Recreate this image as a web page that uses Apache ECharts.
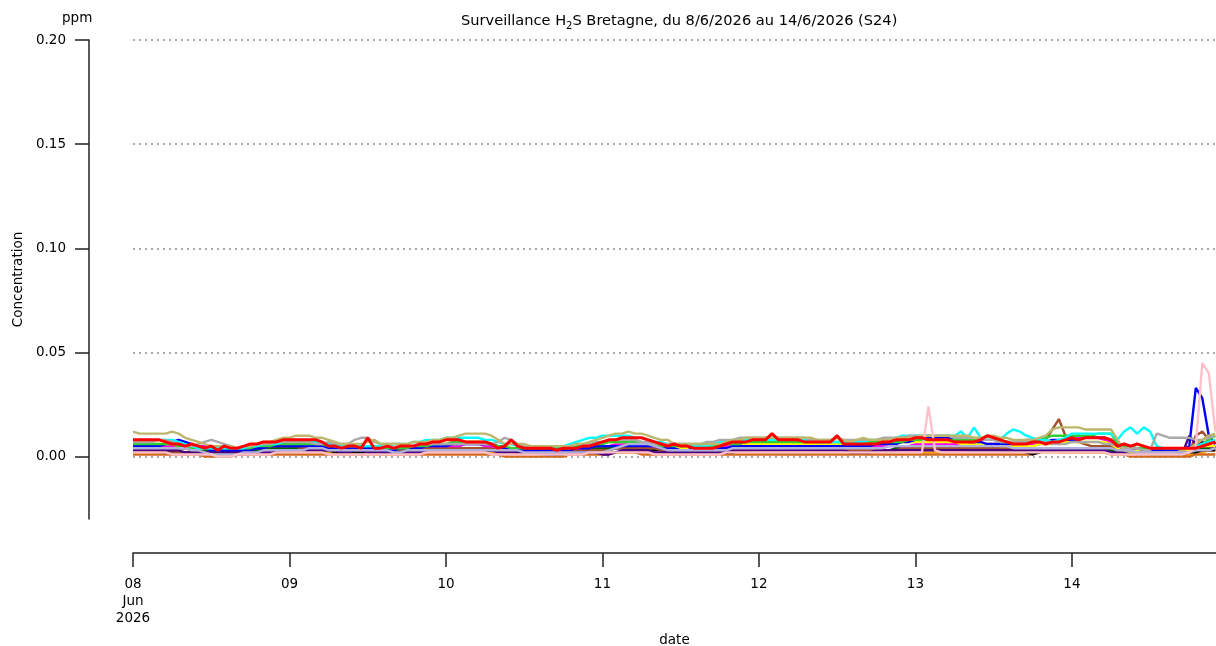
<!DOCTYPE html>
<html>
<head>
<meta charset="utf-8">
<title>Surveillance H2S Bretagne</title>
<script src="https://cdn.jsdelivr.net/npm/echarts@6.0.0/dist/echarts.min.js"></script>
<style>
  html, body { margin: 0; padding: 0; background: #fff; }
  #chart { width: 1216px; height: 646px; }
</style>
</head>
<body>
<div id="chart"></div>
<script>
// heures depuis le 08/06/2026 00:00, un point par heure (0..166)
const dayLabels = ["08\nJun\n2026", "09", "10", "11", "12", "13", "14"];
const xTicks = [0, 24, 48, 72, 96, 120, 144];
const yTicks = [0, 0.05, 0.1, 0.15, 0.2];

// concentrations en ppm, une ligne par jour (08 -> 14)
const orange = [
  .002,.002,.002,.002,.002,.002,.002,.002,.001,.001,.001,.001,.001,.001,.001,.001,.001,.001,.001,.001,.002,.002,.002,.002,
  .002,.002,.002,.002,.002,.002,.002,.002,.001,.001,.001,.001,.001,.001,.001,.001,.001,.001,.001,.001,.001,.002,.002,.002,
  .002,.002,.002,.002,.002,.002,.002,.002,.001,.001,.001,.001,.001,.001,.001,.001,.001,.001,.001,.001,.001,.001,.002,.002,
  .002,.002,.002,.002,.002,.002,.002,.002,.001,.001,.001,.001,.001,.001,.001,.001,.001,.001,.002,.002,.002,.002,.002,.002,
  .002,.002,.002,.002,.002,.002,.002,.002,.002,.002,.002,.002,.002,.002,.002,.002,.002,.002,.002,.002,.002,.002,.002,.002,
  .002,.002,.002,.002,.002,.002,.002,.002,.002,.002,.002,.002,.002,.002,.002,.002,.002,.002,.002,.002,.002,.002,.002,.002,
  .002,.002,.002,.002,.002,.002,.001,.001,.001,.001,.001,.001,.001,.001,.001,.001,.001,.001,.001,.002,.002,.003,.003
];
const chocolate = [
  .001,.001,.001,.001,.001,.001,.001,.001,.001,.001,.001,.000,.000,.000,.000,.000,.001,.001,.001,.001,.001,.001,.001,.001,
  .001,.001,.001,.001,.001,.001,.001,.001,.001,.001,.001,.001,.001,.001,.001,.001,.001,.001,.001,.001,.001,.001,.001,.001,
  .001,.001,.001,.001,.001,.001,.001,.001,.001,.000,.000,.000,.000,.000,.000,.000,.000,.000,.000,.001,.001,.001,.001,.001,
  .001,.001,.002,.002,.002,.002,.001,.001,.001,.001,.001,.001,.001,.001,.001,.001,.001,.001,.001,.001,.001,.001,.001,.001,
  .001,.001,.001,.001,.001,.001,.001,.001,.001,.001,.001,.001,.001,.001,.001,.001,.001,.001,.001,.001,.001,.001,.001,.001,
  .001,.001,.001,.001,.001,.001,.001,.001,.001,.001,.001,.001,.001,.001,.001,.001,.001,.001,.001,.002,.003,.003,.002,.002,
  .002,.002,.002,.002,.002,.002,.001,.001,.001,.000,.000,.000,.000,.000,.000,.000,.000,.000,.000,.001,.001,.001,.001
];
const black = [
  .003,.003,.003,.003,.003,.003,.002,.002,.002,.002,.002,.002,.002,.002,.002,.002,.002,.002,.002,.002,.003,.003,.003,.003,
  .003,.003,.003,.003,.003,.003,.003,.002,.002,.002,.002,.002,.002,.002,.002,.002,.002,.002,.002,.003,.003,.003,.004,.004,
  .004,.004,.004,.004,.004,.004,.003,.003,.003,.002,.002,.002,.002,.002,.002,.002,.001,.001,.001,.002,.002,.002,.002,.003,
  .003,.003,.004,.004,.004,.004,.003,.003,.003,.003,.002,.002,.002,.002,.002,.002,.002,.002,.002,.002,.002,.003,.003,.003,
  .004,.004,.004,.004,.004,.004,.004,.004,.004,.004,.004,.004,.004,.004,.004,.004,.003,.003,.003,.003,.003,.003,.004,.004,
  .004,.004,.004,.004,.004,.004,.004,.004,.004,.004,.004,.004,.004,.003,.003,.003,.003,.002,.001,.002,.003,.003,.003,.003,
  .003,.004,.004,.004,.004,.004,.004,.003,.002,.002,.002,.002,.002,.002,.002,.002,.002,.002,.002,.002,.003,.003,.003
];
const darkgreen = [
  .004,.004,.004,.004,.004,.004,.004,.004,.004,.003,.003,.003,.003,.002,.002,.002,.002,.003,.003,.003,.003,.004,.004,.004,
  .004,.004,.004,.004,.004,.004,.003,.003,.003,.003,.005,.005,.004,.003,.003,.003,.003,.003,.003,.003,.003,.004,.004,.004,
  .004,.004,.004,.004,.004,.004,.004,.004,.003,.003,.003,.003,.003,.003,.003,.003,.002,.002,.002,.002,.003,.003,.003,.004,
  .004,.004,.005,.005,.005,.005,.004,.004,.004,.004,.004,.003,.003,.003,.003,.003,.003,.003,.003,.003,.004,.004,.004,.004,
  .004,.004,.004,.004,.004,.004,.004,.004,.004,.004,.004,.004,.004,.004,.003,.003,.003,.003,.003,.003,.003,.004,.004,.004,
  .004,.004,.004,.004,.005,.005,.004,.004,.003,.003,.003,.003,.003,.003,.003,.003,.003,.003,.003,.003,.003,.003,.003,.003,
  .003,.003,.003,.003,.003,.003,.003,.002,.002,.002,.002,.002,.001,.001,.001,.001,.001,.001,.002,.003,.004,.004,.005
];
const sienna = [
  .003,.003,.003,.003,.002,.002,.002,.002,.002,.002,.001,.001,.001,.001,.001,.001,.001,.001,.001,.002,.002,.002,.002,.003,
  .003,.003,.004,.004,.004,.004,.003,.003,.003,.003,.004,.004,.003,.003,.003,.003,.003,.003,.003,.003,.003,.004,.004,.004,
  .004,.004,.004,.004,.004,.004,.004,.004,.003,.003,.003,.003,.003,.003,.003,.003,.003,.003,.003,.003,.003,.003,.003,.003,
  .003,.003,.004,.004,.004,.004,.004,.004,.004,.003,.003,.003,.003,.003,.003,.003,.003,.003,.003,.003,.003,.003,.003,.003,
  .003,.003,.003,.003,.004,.004,.004,.004,.003,.003,.003,.003,.003,.003,.003,.003,.003,.003,.003,.003,.003,.003,.004,.004,
  .004,.004,.004,.004,.004,.004,.004,.004,.004,.004,.004,.004,.004,.004,.004,.004,.004,.004,.005,.006,.008,.013,.018,.010,
  .008,.007,.006,.005,.005,.005,.005,.004,.003,.002,.001,.001,.001,.001,.001,.001,.001,.001,.002,.010,.012,.008,.006
];
const indigo = [
  .003,.003,.003,.003,.003,.003,.003,.003,.002,.002,.002,.002,.002,.002,.002,.002,.002,.002,.002,.002,.002,.002,.003,.003,
  .003,.003,.003,.003,.003,.003,.003,.003,.002,.002,.003,.003,.002,.002,.002,.002,.002,.002,.002,.002,.002,.003,.003,.003,
  .003,.003,.003,.003,.003,.003,.003,.003,.002,.002,.002,.002,.002,.002,.002,.001,.001,.001,.002,.002,.002,.002,.002,.002,
  .001,.001,.002,.003,.003,.003,.003,.003,.002,.002,.002,.002,.002,.002,.002,.002,.002,.002,.002,.002,.003,.003,.003,.003,
  .003,.003,.003,.003,.003,.003,.003,.003,.003,.003,.003,.003,.003,.003,.002,.002,.002,.002,.003,.003,.003,.003,.003,.003,
  .003,.003,.003,.003,.003,.003,.003,.003,.003,.003,.003,.003,.003,.003,.003,.003,.003,.003,.003,.003,.003,.003,.003,.003,
  .003,.003,.003,.003,.003,.003,.002,.002,.002,.002,.002,.002,.002,.002,.002,.002,.002,.002,.010,.006,.007,.005,.004
];
const magenta = [
  .005,.005,.005,.005,.005,.005,.005,.005,.005,.004,.005,.005,.004,.004,.004,.004,.004,.004,.004,.004,.005,.005,.005,.005,
  .005,.005,.005,.005,.005,.005,.004,.004,.004,.004,.004,.004,.004,.004,.004,.004,.004,.004,.004,.004,.004,.005,.005,.005,
  .005,.005,.005,.006,.006,.006,.005,.005,.004,.004,.004,.004,.004,.004,.004,.004,.004,.004,.004,.004,.004,.004,.005,.005,
  .005,.005,.006,.006,.006,.006,.006,.005,.005,.004,.004,.004,.004,.004,.004,.004,.004,.004,.004,.005,.005,.005,.005,.005,
  .005,.005,.005,.005,.005,.005,.005,.005,.005,.005,.005,.005,.006,.005,.005,.005,.005,.005,.005,.005,.005,.005,.005,.005,
  .006,.006,.006,.006,.006,.006,.006,.006,.006,.006,.006,.006,.006,.006,.005,.005,.005,.005,.006,.006,.006,.007,.007,.007,
  .008,.009,.009,.009,.009,.008,.007,.005,.004,.004,.004,.003,.003,.003,.003,.003,.003,.003,.003,.004,.005,.005,.005
];
const yellow = [
  .006,.006,.006,.006,.006,.006,.006,.005,.005,.004,.004,.004,.004,.004,.004,.004,.004,.004,.005,.005,.005,.006,.006,.006,
  .006,.006,.006,.006,.006,.005,.005,.005,.004,.004,.004,.004,.004,.004,.004,.004,.004,.004,.005,.005,.005,.006,.006,.006,
  .006,.006,.006,.007,.007,.007,.006,.006,.005,.005,.004,.004,.004,.004,.004,.004,.004,.004,.004,.004,.005,.005,.006,.006,
  .007,.007,.007,.007,.007,.007,.006,.006,.005,.005,.005,.004,.004,.004,.005,.005,.005,.005,.006,.006,.006,.006,.006,.006,
  .006,.006,.006,.006,.006,.006,.006,.006,.006,.006,.006,.006,.006,.006,.006,.006,.006,.006,.006,.006,.006,.006,.007,.007,
  .007,.007,.007,.007,.007,.007,.007,.006,.006,.006,.006,.006,.006,.005,.005,.005,.005,.005,.005,.006,.006,.006,.007,.007,
  .007,.007,.007,.007,.007,.007,.006,.004,.004,.003,.003,.003,.003,.003,.003,.003,.003,.003,.003,.004,.005,.005,.005
];
const blue = [
  .005,.005,.005,.005,.005,.006,.007,.008,.007,.006,.005,.004,.003,.003,.003,.003,.003,.003,.003,.004,.004,.005,.005,.005,
  .005,.005,.005,.005,.005,.005,.004,.004,.003,.004,.004,.004,.004,.004,.003,.003,.003,.004,.004,.004,.004,.005,.005,.005,
  .005,.006,.006,.006,.006,.006,.006,.006,.005,.004,.004,.003,.003,.003,.003,.003,.003,.003,.003,.003,.004,.004,.004,.005,
  .005,.005,.005,.005,.005,.005,.005,.005,.005,.004,.004,.004,.003,.003,.004,.004,.004,.004,.004,.004,.005,.005,.005,.005,
  .005,.005,.005,.005,.005,.005,.005,.005,.005,.005,.005,.005,.005,.005,.005,.005,.005,.005,.006,.006,.006,.006,.007,.007,
  .008,.008,.009,.009,.009,.009,.008,.008,.007,.007,.007,.006,.006,.006,.006,.006,.007,.008,.008,.008,.007,.008,.008,.008,
  .008,.008,.009,.009,.009,.009,.008,.005,.004,.004,.004,.003,.003,.003,.003,.003,.003,.003,.005,.033,.028,.010,.006
];
const limegreen = [
  .006,.006,.006,.006,.006,.006,.006,.005,.005,.004,.004,.004,.004,.004,.004,.004,.004,.004,.004,.005,.005,.005,.006,.006,
  .006,.006,.006,.006,.006,.006,.005,.005,.005,.005,.005,.005,.005,.005,.004,.004,.004,.004,.004,.005,.005,.005,.006,.006,
  .006,.007,.007,.007,.007,.007,.007,.006,.005,.005,.004,.004,.004,.004,.004,.004,.004,.004,.004,.004,.005,.005,.005,.006,
  .006,.007,.007,.007,.007,.007,.007,.006,.006,.005,.005,.005,.005,.005,.005,.005,.005,.005,.005,.006,.006,.006,.007,.007,
  .007,.007,.007,.007,.007,.007,.007,.007,.007,.007,.007,.007,.007,.007,.007,.007,.007,.007,.007,.007,.007,.007,.007,.008,
  .008,.008,.008,.008,.008,.008,.008,.008,.008,.008,.008,.008,.008,.007,.007,.007,.007,.007,.007,.008,.009,.010,.010,.010,
  .010,.010,.010,.010,.011,.011,.011,.006,.005,.005,.004,.004,.004,.004,.004,.004,.004,.004,.004,.005,.006,.008,.010
];
const cyan = [
  .008,.008,.008,.008,.008,.008,.008,.007,.006,.005,.004,.004,.004,.004,.004,.004,.004,.004,.005,.005,.006,.006,.006,.007,
  .008,.008,.008,.008,.007,.007,.006,.005,.005,.005,.005,.005,.005,.005,.005,.005,.006,.006,.006,.007,.007,.008,.008,.008,
  .009,.009,.009,.009,.009,.009,.008,.008,.007,.006,.006,.005,.005,.005,.005,.005,.005,.005,.005,.006,.007,.008,.009,.009,
  .010,.010,.010,.010,.010,.009,.009,.008,.007,.007,.006,.006,.005,.005,.005,.005,.005,.006,.007,.007,.008,.008,.008,.008,
  .008,.008,.008,.008,.008,.008,.008,.008,.008,.007,.007,.007,.007,.007,.007,.007,.007,.008,.008,.008,.008,.009,.010,.010,
  .010,.010,.010,.010,.010,.010,.010,.012,.009,.014,.009,.008,.008,.008,.011,.013,.012,.010,.009,.008,.008,.007,.008,.009,
  .011,.011,.011,.011,.011,.011,.011,.008,.012,.014,.011,.014,.012,.005,.004,.004,.004,.004,.004,.005,.006,.007,.008
];
const darkgray = [
  .007,.007,.007,.007,.008,.008,.007,.006,.005,.005,.006,.007,.008,.007,.006,.005,.004,.005,.005,.006,.006,.006,.007,.007,
  .007,.007,.007,.007,.006,.006,.007,.006,.006,.006,.008,.009,.009,.007,.006,.006,.006,.006,.005,.005,.006,.006,.006,.006,
  .006,.006,.006,.006,.006,.006,.006,.006,.007,.009,.008,.006,.005,.005,.005,.005,.005,.005,.005,.005,.006,.006,.006,.007,
  .007,.008,.008,.008,.008,.008,.007,.007,.006,.006,.006,.006,.006,.006,.006,.006,.007,.007,.008,.008,.008,.009,.009,.009,
  .009,.009,.009,.009,.009,.009,.009,.009,.008,.008,.008,.008,.009,.008,.008,.008,.008,.008,.008,.009,.009,.009,.009,.010,
  .010,.010,.010,.010,.010,.010,.009,.009,.009,.009,.008,.008,.008,.007,.007,.007,.007,.007,.007,.007,.007,.006,.006,.006,
  .007,.007,.007,.007,.007,.006,.006,.005,.004,.004,.004,.003,.003,.011,.010,.009,.009,.009,.009,.008,.008,.009,.010
];
const darkkhaki = [
  .012,.011,.011,.011,.011,.011,.012,.011,.009,.008,.007,.006,.005,.005,.005,.005,.004,.005,.005,.006,.007,.007,.008,.009,
  .009,.010,.010,.010,.009,.009,.008,.007,.006,.006,.006,.006,.007,.008,.006,.006,.006,.006,.006,.007,.007,.007,.008,.008,
  .009,.009,.010,.011,.011,.011,.011,.010,.008,.006,.006,.006,.006,.005,.005,.005,.005,.005,.005,.005,.006,.006,.007,.008,
  .009,.010,.011,.011,.012,.011,.011,.010,.009,.008,.008,.006,.006,.006,.006,.006,.006,.006,.006,.007,.008,.008,.009,.009,
  .009,.009,.009,.009,.009,.009,.009,.009,.009,.008,.008,.008,.009,.008,.007,.008,.009,.008,.008,.008,.008,.009,.009,.009,
  .009,.010,.010,.010,.010,.010,.010,.010,.010,.009,.009,.010,.010,.009,.009,.008,.008,.008,.008,.009,.010,.013,.014,.014,
  .014,.014,.013,.013,.013,.013,.013,.008,.003,.002,.002,.002,.002,.002,.002,.002,.002,.003,.004,.006,.008,.010,.011
];
const lavender = [
  .004,.004,.004,.004,.004,.004,.004,.004,.004,.003,.003,.002,.001,.001,.001,.001,.001,.002,.002,.002,.003,.003,.003,.003,
  .003,.003,.003,.004,.004,.004,.003,.003,.003,.003,.003,.003,.003,.003,.003,.003,.002,.002,.003,.003,.003,.003,.003,.003,
  .003,.003,.003,.003,.003,.003,.003,.003,.003,.003,.003,.003,.002,.002,.002,.002,.002,.002,.002,.002,.002,.002,.002,.002,
  .002,.003,.004,.005,.006,.006,.006,.006,.005,.004,.003,.003,.003,.003,.003,.003,.003,.003,.003,.003,.004,.004,.004,.004,
  .004,.004,.004,.004,.004,.004,.004,.004,.004,.004,.004,.004,.004,.004,.004,.004,.004,.004,.004,.004,.005,.005,.005,.005,
  .005,.005,.005,.005,.005,.005,.005,.005,.005,.005,.005,.005,.005,.005,.005,.004,.004,.004,.004,.004,.004,.004,.004,.004,
  .004,.004,.004,.004,.004,.004,.004,.003,.003,.003,.002,.002,.002,.002,.002,.002,.002,.002,.002,.003,.003,.003,.004
];
const pink = [
  .002,.002,.002,.002,.002,.002,.001,.001,.001,.001,.001,.001,.001,.000,.000,.000,.001,.001,.001,.001,.001,.001,.002,.002,
  .002,.002,.002,.002,.002,.002,.001,.001,.001,.001,.001,.001,.001,.001,.001,.001,.001,.001,.001,.001,.001,.002,.002,.002,
  .002,.002,.002,.002,.002,.002,.002,.001,.001,.001,.001,.001,.001,.001,.001,.001,.001,.001,.001,.001,.001,.001,.002,.002,
  .002,.002,.002,.002,.002,.002,.002,.002,.001,.001,.001,.001,.001,.001,.001,.001,.001,.001,.001,.002,.002,.002,.002,.002,
  .002,.002,.002,.002,.002,.002,.002,.002,.002,.002,.002,.002,.002,.002,.002,.002,.002,.002,.002,.002,.002,.002,.002,.002,
  .002,.002,.024,.003,.002,.002,.002,.002,.002,.002,.002,.002,.002,.002,.002,.002,.002,.002,.002,.002,.002,.002,.002,.002,
  .002,.002,.002,.002,.002,.002,.001,.001,.001,.001,.001,.001,.001,.001,.001,.001,.001,.001,.002,.005,.045,.040,.012
];
const red = [
  .008,.008,.008,.008,.008,.007,.006,.006,.005,.006,.005,.004,.005,.003,.005,.004,.004,.005,.006,.006,.007,.007,.007,.008,
  .008,.008,.008,.008,.008,.007,.005,.005,.004,.005,.005,.004,.009,.004,.004,.005,.004,.005,.005,.005,.006,.006,.007,.007,
  .008,.008,.008,.007,.007,.007,.007,.006,.004,.005,.008,.005,.004,.004,.004,.004,.004,.003,.004,.004,.004,.005,.005,.006,
  .007,.008,.008,.009,.009,.009,.009,.008,.007,.006,.005,.006,.005,.005,.004,.004,.004,.004,.005,.006,.007,.007,.007,.008,
  .008,.008,.011,.008,.008,.008,.008,.007,.007,.007,.007,.007,.010,.006,.006,.006,.006,.006,.006,.007,.007,.008,.008,.008,
  .009,.009,.008,.008,.008,.008,.007,.007,.007,.007,.008,.010,.009,.008,.007,.006,.006,.006,.007,.007,.006,.007,.007,.008,
  .009,.008,.009,.009,.009,.009,.008,.005,.006,.005,.006,.005,.004,.004,.004,.004,.004,.004,.004,.004,.005,.006,.007
];

// ordre de tracé : la dernière série est dessinée au-dessus
const stations = [
  { values: orange, color: "#FFA500" },
  { values: chocolate, color: "#D2691E" },
  { values: black, color: "#000000" },
  { values: darkgreen, color: "#006400" },
  { values: sienna, color: "#A0522D" },
  { values: indigo, color: "#4B0082" },
  { values: magenta, color: "#FF00FF" },
  { values: yellow, color: "#FFFF00" },
  { values: blue, color: "#0000FF" },
  { values: limegreen, color: "#32CD32" },
  { values: cyan, color: "#00FFFF" },
  { values: darkgray, color: "#A9A9A9" },
  { values: darkkhaki, color: "#BDB76B" },
  { values: lavender, color: "#B0B0DC" },
  { values: pink, color: "#FFC0CB" },
  { values: red, color: "#FF0000", width: 3 },
];

const font = "DejaVu Sans";
let myChart = echarts.init(document.getElementById("chart"));

let series = stations.map((st, idx) => {
  let s = {
    type: "line",
    data: st.values.map((v, i) => [i, v]),
    showSymbol: false,
    symbol: "none",
    lineStyle: { color: st.color, width: st.width || 2.4 },
    itemStyle: { color: st.color },
    z: 2 + idx * 0.01,
  };
  if (idx === 0) {
    // lignes de grille pointillées
    s.markLine = {
      silent: true,
      symbol: ["none", "none"],
      label: { show: false },
      lineStyle: { color: "#aaaaaa", type: [2, 4], width: 2 },
      data: yTicks.map((v) => ({ yAxis: v })),
      z: 1,
    };
  }
  return s;
});

let option = {
  animation: false,
  backgroundColor: "#ffffff",
  textStyle: { fontFamily: font },
  graphic: [
    {
      type: "text",
      left: 461,
      top: 11,
      style: {
        text: "Surveillance H{s|2}S Bretagne, du 8/6/2026 au 14/6/2026 (S24)",
        fontFamily: font,
        fontSize: 14.6,
        lineHeight: 20,
        fill: "#000",
        rich: {
          s: { fontFamily: font, fontSize: 10, lineHeight: 12, verticalAlign: "bottom", fill: "#000" },
        },
      },
    },
    {
      type: "text",
      left: 62,
      top: 11,
      style: { text: "ppm", fontFamily: font, fontSize: 13.5, fill: "#000" },
    },
  ],
  grid: { left: 133, right: 0, top: 40, bottom: 127, outerBoundsMode: "none", containLabel: false },
  xAxis: {
    type: "value",
    min: 0,
    max: 166.1,
    interval: 24,
    offset: 34,
    name: "date",
    nameLocation: "middle",
    nameGap: 80,
    nameTextStyle: { fontFamily: font, fontSize: 13.5, color: "#000" },
    axisLine: { show: true, onZero: false, lineStyle: { color: "#222", width: 1.5 } },
    axisTick: { show: true, length: 14, customValues: xTicks, lineStyle: { color: "#222", width: 1.5 } },
    axisLabel: {
      margin: 23,
      fontFamily: font,
      fontSize: 13.5,
      lineHeight: 17,
      color: "#000",
      customValues: xTicks,
      formatter: (v) => dayLabels[Math.round(v / 24)] || "",
    },
    splitLine: { show: false },
  },
  yAxis: {
    type: "value",
    min: -0.03,
    max: 0.2,
    offset: 44,
    name: "Concentration",
    nameLocation: "middle",
    nameRotate: 90,
    nameGap: 64,
    nameTextStyle: { fontFamily: font, fontSize: 13.5, color: "#000" },
    axisLine: { show: true, onZero: false, lineStyle: { color: "#222", width: 1.5 } },
    axisTick: { show: true, length: 14, customValues: yTicks, lineStyle: { color: "#222", width: 1.5 } },
    axisLabel: {
      margin: 23,
      fontFamily: font,
      fontSize: 13.5,
      color: "#000",
      customValues: yTicks,
      formatter: (v) => v.toFixed(2),
    },
    splitLine: { show: false },
  },
  series: series,
};
myChart.setOption(option);
</script>
</body>
</html>
